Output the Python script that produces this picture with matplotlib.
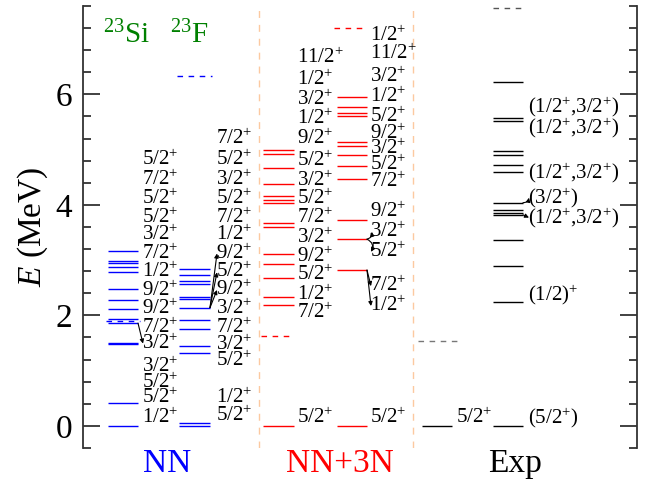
import matplotlib
matplotlib.use('Agg')
import matplotlib.pyplot as plt
from matplotlib.ticker import MultipleLocator
import matplotlib.transforms as mtransforms

plt.rcParams['font.family'] = ['Liberation Serif', 'DejaVu Serif']
plt.rcParams['mathtext.fontset'] = 'custom'
plt.rcParams['mathtext.rm'] = 'Liberation Serif'
plt.rcParams['mathtext.it'] = 'Liberation Serif:italic'

# ---------------- data (MeV) ----------------
si_nn_levels = [0.0, 0.42, 1.48, 1.50, 1.86, 1.93, 2.12, 2.28, 2.48, 2.78, 2.87, 2.95, 2.99, 3.17]
si_nn_thresh = [1.90]
si_nn_labels = ['1/2+', '5/2+', '5/2+', '3/2+', '3/2+', '7/2+', '9/2+', '9/2+', '1/2+', '7/2+',
                '3/2+', '5/2+', '5/2+', '7/2+', '5/2+']
si_nn_label_E = [0.15, 0.51, 0.78, 1.07, 1.49, 1.77, 2.12, 2.45, 2.79, 3.12, 3.45, 3.77, 4.10, 4.46, 4.82]

f_nn_levels = [0.0, 0.06, 1.32, 1.45, 1.75, 1.91, 2.14, 2.29, 2.33, 2.56, 2.63, 2.73, 2.84]
f_nn_thresh = [6.34]
f_nn_labels = ['5/2+', '1/2+', '5/2+', '3/2+', '7/2+', '3/2+', '9/2+', '5/2+', '9/2+', '1/2+',
               '7/2+', '5/2+', '3/2+', '5/2+', '7/2+']
f_nn_label_E = [0.18, 0.51, 1.17, 1.47, 1.77, 2.12, 2.46, 2.78, 3.12, 3.45, 3.77, 4.10, 4.46, 4.82, 5.20]

si_3n_levels = [0.0, 2.19, 2.33, 2.67, 2.93, 3.11, 3.60, 3.68, 4.04, 4.09, 4.17, 4.37, 4.67, 4.93, 4.99]
si_3n_thresh = [1.63]
si_3n_labels = ['5/2+', '7/2+', '1/2+', '5/2+', '9/2+', '3/2+', '7/2+', '5/2+', '3/2+', '5/2+',
                '9/2+', '1/2+', '3/2+', '1/2+', '11/2+']
si_3n_label_E = [0.15, 2.05, 2.37, 2.73, 3.06, 3.41, 3.77, 4.11, 4.43, 4.80, 5.20, 5.56, 5.90, 6.26, 6.66]

f_3n_levels = [0.0, 2.82, 3.38, 3.72, 4.46, 4.70, 4.90, 5.06, 5.14, 5.60, 5.66, 5.77, 5.96]
f_3n_thresh = [7.20]
f_3n_labels = ['5/2+', '1/2+', '7/2+', '5/2+', '3/2+', '9/2+', '7/2+', '5/2+', '3/2+', '9/2+',
               '5/2+', '1/2+', '3/2+', '11/2+', '1/2+']
f_3n_label_E = [0.15, 2.17, 2.53, 3.15, 3.51, 3.87, 4.41, 4.73, 5.02, 5.29, 5.59, 5.95, 6.31, 6.73, 7.06]

si_exp_levels = [0.0]
si_exp_thresh = [1.53]
si_exp_labels = ['5/2+']
si_exp_label_E = [0.15]

f_exp_levels = [0.0, 2.24, 2.90, 3.36, 3.82, 3.86, 3.91, 4.04, 4.60, 4.72, 4.90, 4.97, 5.52, 5.58, 6.23]
f_exp_thresh = [7.56]
f_exp_labels = ['(5/2+)', '(1/2)+', '(1/2+,3/2+)', '(3/2+)', '(1/2+,3/2+)', '(1/2+,3/2+)', '(1/2+,3/2+)']
f_exp_label_E = [0.15, 2.37, 3.77, 4.13, 4.58, 5.39, 5.78]

groups = ['NN', 'NN+3N', 'Exp']
nuclei = ['$^{23}$Si', '$^{23}$F']

# arrows: (column, level index, label index, curvature)
arrows = [
    ('si_nn', 4, 4, 0.0),
    ('f_nn', 6, 6, 0.0), ('f_nn', 6, 7, 0.0), ('f_nn', 6, 8, 0.0),
    ('f_3n', 2, 4, 0.5), ('f_3n', 2, 3, -0.5),
    ('f_3n', 1, 2, 0.0), ('f_3n', 1, 1, 0.0),
    ('f_exp', 7, 3, 0.4), ('f_exp', 4, 2, 0.0),
]

# ---------------- layout ----------------
columns = {
    'si_nn': dict(levels=si_nn_levels, thresh=si_nn_thresh, labels=si_nn_labels, lE=si_nn_label_E,
                  x0=108, x1=138, lx=142, color='#0000ff', tx0=106, tx1=140),
    'f_nn': dict(levels=f_nn_levels, thresh=f_nn_thresh, labels=f_nn_labels, lE=f_nn_label_E,
                 x0=179, x1=210, lx=216, color='#0000ff', tx0=177, tx1=212),
    'si_3n': dict(levels=si_3n_levels, thresh=si_3n_thresh, labels=si_3n_labels, lE=si_3n_label_E,
                  x0=263, x1=294, lx=297, color='#ff0000', tx0=261, tx1=292),
    'f_3n': dict(levels=f_3n_levels, thresh=f_3n_thresh, labels=f_3n_labels, lE=f_3n_label_E,
                 x0=337, x1=367, lx=370, color='#ff0000', tx0=334, tx1=367),
    'si_exp': dict(levels=si_exp_levels, thresh=si_exp_thresh, labels=si_exp_labels, lE=si_exp_label_E,
                   x0=422, x1=452, lx=456, color='black', tx0=418, tx1=457, tcolor='#777777'),
    'f_exp': dict(levels=f_exp_levels, thresh=f_exp_thresh, labels=f_exp_labels, lE=f_exp_label_E,
                  x0=493, x1=523, lx=528, color='black', tx0=493, tx1=525, tcolor='#555555'),
}

W, H = 653, 486
fig = plt.figure(figsize=(W / 100, H / 100), dpi=100)
ax = fig.add_axes([83 / W, 38 / H, 554 / W, 442 / H])
ax.set_xlim(83, 637)
ax.set_ylim(-0.4, 7.6)


def sp(s):
    return s.replace('+', '$^{+}$')


for key, c in columns.items():
    for e in c['levels']:
        ax.plot([c['x0'], c['x1']], [e, e], color=c['color'], lw=1.0, solid_capstyle='butt')
    for e in c['thresh']:
        ax.plot([c['tx0'], c['tx1']], [e, e], color=c.get('tcolor', c['color']), lw=1.0,
                ls=(0, (4, 4)))
    for lab, e in zip(c['labels'], c['lE']):
        ax.text(c['lx'], e, sp(lab), fontsize=15, ha='left', va='center', color='black')

for key, li, ti, rad in arrows:
    c = columns[key]
    ax.annotate('', xy=(c['lx'] + 1, c['lE'][ti]), xytext=(c['x1'], c['levels'][li]),
                arrowprops=dict(arrowstyle='-|>', color='black', lw=0.8, mutation_scale=6,
                                shrinkA=0, shrinkB=0, connectionstyle=f'arc3,rad={rad}'))

# separators
for xs in [259, 413]:
    ax.axvline(xs, color='#fcc9a0', lw=1.0, ls=(0, (5, 5)))

# nucleus labels
ax.text(103, 6.92, nuclei[0], fontsize=21, color='#008000', ha='left', va='baseline')
ax.text(170, 6.92, nuclei[1], fontsize=21, color='#008000', ha='left', va='baseline')

# group labels
trans = mtransforms.blended_transform_factory(ax.transData, ax.transAxes)
for g, xc, col in zip(groups, [167, 340, 515], ['#0000ff', '#ff0000', 'black']):
    ax.text(xc, -0.035, g, fontsize=24, color=col, ha='center', va='center', transform=trans)

# axes styling
for s in ['top', 'bottom']:
    ax.spines[s].set_visible(False)
for s in ['left', 'right']:
    ax.spines[s].set_color('#333333')
    ax.spines[s].set_linewidth(1.3)
ax.set_xticks([])
ax.yaxis.set_major_locator(MultipleLocator(2))
ax.yaxis.set_minor_locator(MultipleLocator(0.4))
ax.tick_params(axis='y', which='both', direction='in', left=True, right=True, color='#333333',
               width=1.3, labelsize=24, pad=8)
ax.tick_params(axis='y', which='major', length=12)
ax.tick_params(axis='y', which='minor', length=6)
ax.set_ylabel('$\\mathit{E}$ (MeV)', fontsize=24, labelpad=4)

fig.savefig('out.png', dpi=100)
